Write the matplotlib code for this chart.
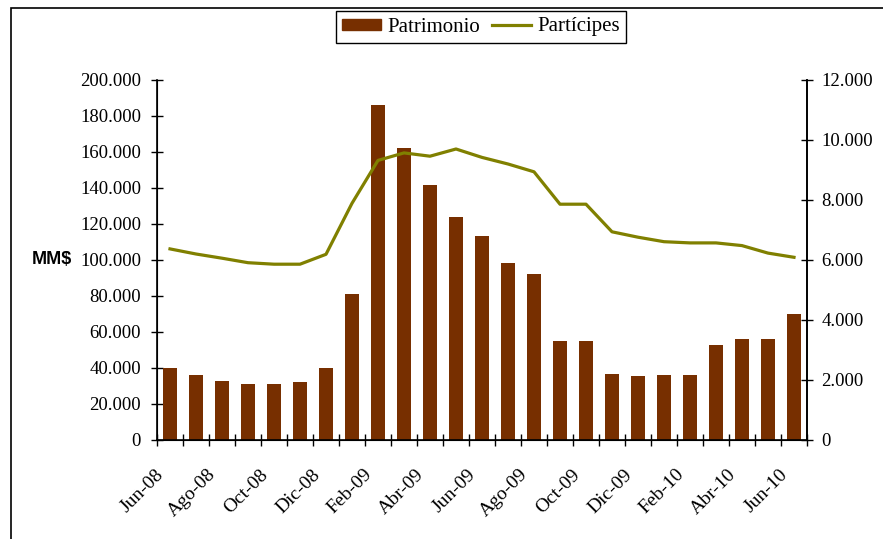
import matplotlib
matplotlib.use("Agg")
import matplotlib.pyplot as plt
import numpy as np
from matplotlib.patches import Rectangle, Patch
from matplotlib.lines import Line2D

months = ["Jun-08", "Jul-08", "Ago-08", "Sep-08", "Oct-08", "Nov-08", "Dic-08",
          "Ene-09", "Feb-09", "Mar-09", "Abr-09", "May-09", "Jun-09", "Jul-09",
          "Ago-09", "Sep-09", "Oct-09", "Nov-09", "Dic-09", "Ene-10", "Feb-10",
          "Mar-10", "Abr-10", "May-10", "Jun-10"]
patrimonio = [40000, 36100, 32800, 31100, 31100, 32200, 40000, 81100, 186100,
              162200, 141700, 123900, 113300, 98300, 92200, 55000, 55000, 36700,
              35600, 36100, 36100, 52800, 56100, 56100, 70000]
participes = [6370, 6200, 6060, 5910, 5860, 5860, 6190, 7890, 9320, 9570, 9460,
              9700, 9420, 9200, 8940, 7860, 7860, 6940, 6760, 6610, 6570, 6570,
              6480, 6230, 6090]
left_ticks = list(range(0, 200001, 20000))
right_ticks = list(range(0, 12001, 2000))

bar_color = "#772F00"
line_color = "#808000"
serif = ["Liberation Serif", "DejaVu Serif"]

def fmt(v):
    return f"{v:,.0f}".replace(",", ".")

fig = plt.figure(figsize=(8.83, 5.39), dpi=100)
ax = fig.add_axes([157/883, 1-440/539, (807-157)/883, (440-80)/539])
x = np.arange(len(months))
ax.bar(x, patrimonio, width=0.54, color=bar_color, zorder=2)
ax.set_xlim(-0.5, len(months)-0.5)
ax.set_ylim(0, 200000)
ax.set_yticks(left_ticks)
ax.set_yticklabels([fmt(v) for v in left_ticks], fontfamily=serif, fontsize=13.5)
ax.tick_params(axis="y", direction="inout", length=9, width=1, pad=7)

label_shift = 0.33
ax.set_xticks(x[::2] - label_shift)
ax.set_xticklabels(months[::2], rotation=45, ha="right", va="center",
                   rotation_mode="anchor", fontfamily=serif, fontsize=14)
ax.tick_params(axis="x", which="major", length=0, pad=23)
ax.set_xticks(np.arange(-0.5, len(months), 1), minor=True)
ax.tick_params(axis="x", which="minor", direction="inout", length=9, width=1)

ax.spines["top"].set_visible(False)
for s in ["left", "bottom", "right"]:
    ax.spines[s].set_linewidth(1.2)

ax2 = ax.twinx()
ax2.plot(x, participes, color=line_color, lw=2.3, zorder=3)
ax2.set_ylim(0, 12000)
ax2.set_yticks(right_ticks)
ax2.set_yticklabels([fmt(v) for v in right_ticks], fontfamily=serif, fontsize=13.5)
ax2.tick_params(axis="y", direction="inout", length=9, width=1, pad=6)
ax2.spines["top"].set_visible(False)
ax2.spines["right"].set_linewidth(1.2)

fig.text(52/883, 1-260/539, "MM$", fontfamily=["Liberation Sans", "DejaVu Sans"],
         fontweight="bold", fontsize=13, ha="center", va="center")

handles = [Patch(facecolor=bar_color, edgecolor=bar_color),
           Line2D([0], [0], color=line_color, lw=2.3)]
leg = fig.legend(handles, ["Patrimonio", "Partícipes"], loc="center",
                 bbox_to_anchor=(481/883, 1-27/539), ncol=2, frameon=True,
                 fancybox=False, edgecolor="black", framealpha=1,
                 prop={"family": serif, "size": 15}, handlelength=1.85,
                 handleheight=0.43, columnspacing=0.6, handletextpad=0.3,
                 borderpad=0.3, borderaxespad=0)
leg.get_frame().set_linewidth(1.0)

fig.patches.append(Rectangle((11/883, -0.2), 1.5, 1.2 - 8/539, transform=fig.transFigure,
                             fill=False, edgecolor="black", linewidth=1.2))

fig.savefig("out.png", dpi=100)
